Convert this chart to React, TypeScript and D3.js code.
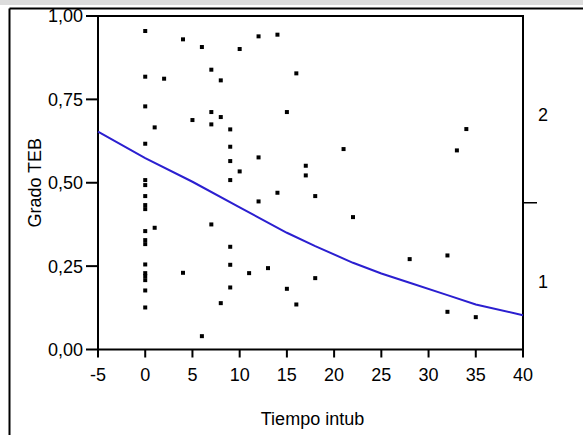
import React from "react";
import * as d3 from "d3";

// Scatter data: Tiempo intub (x) vs Grado TEB (y)
const tiempo: number[] = [
  0, 0, 0, 0, 0, 0, 0, 0, 0, 0, 0, 0, 0, 0, 0, 0, 0, 0,
  1, 1, 2, 4, 4, 5,
  6, 6, 7, 7, 7, 7, 8, 8, 8,
  9, 9, 9, 9, 9, 9, 9,
  10, 10, 11, 12, 12, 12, 13, 14, 14, 15, 15, 16, 16, 17, 17,
  18, 18, 21, 22, 28, 32, 32, 33, 34, 35,
];
const grado: number[] = [
  0.955, 0.818, 0.729, 0.617, 0.508, 0.493, 0.46, 0.433, 0.421, 0.355, 0.328, 0.316, 0.255, 0.229, 0.22, 0.208, 0.177, 0.126,
  0.666, 0.365, 0.812, 0.93, 0.23, 0.688,
  0.907, 0.04, 0.839, 0.712, 0.675, 0.375, 0.807, 0.697, 0.139,
  0.66, 0.608, 0.565, 0.508, 0.308, 0.254, 0.186,
  0.901, 0.534, 0.229, 0.939, 0.576, 0.444, 0.244, 0.944, 0.47, 0.712, 0.182, 0.828, 0.135, 0.551, 0.522,
  0.46, 0.214, 0.601, 0.397, 0.271, 0.282, 0.113, 0.597, 0.661, 0.097,
];

// Fitted curve
const curveX: number[] = [-5, 0, 5, 10, 15, 18, 22, 25, 28, 32, 35, 40];
const curveY: number[] = [0.653, 0.574, 0.503, 0.426, 0.35, 0.31, 0.26, 0.228, 0.2, 0.163, 0.135, 0.103];

const xTicks: number[] = [-5, 0, 5, 10, 15, 20, 25, 30, 35, 40];
const yTicks: number[] = [0, 0.25, 0.5, 0.75, 1];
const rightLabels: string[] = ["2", "1"];
const rightLabelValues: number[] = [0.705, 0.205];
const rightTickValue: number[] = [0.44];

const FONT = "'Liberation Sans', Arial, Helvetica, sans-serif";

export default function App() {
  const W = 583;
  const H = 435;
  const left = 98;
  const right = 523;
  const top = 16;
  const bottom = 349.5;
  const x = d3.scaleLinear().domain([-5, 40]).range([left, right]);
  const y = d3.scaleLinear().domain([0, 1]).range([bottom, top]);
  const fmt = (v: number) => d3.format(".2f")(v).replace(".", ",");
  const line = d3
    .line<number>()
    .x((_, i) => x(curveX[i]))
    .y((d) => y(d));
  const ms = 4;

  return (
    <svg
      width={W}
      height={H}
      style={{ position: "absolute", left: 0, top: 0, background: "#fff" }}
      fontFamily={FONT}
    >
      <rect x={0} y={0} width={W} height={5} fill="#dcdcdc" />
      {/* outer frame */}
      <line x1={9.5} x2={W} y1={8.5} y2={8.5} stroke="#000" strokeWidth={2} />
      <line x1={9.5} x2={9.5} y1={8.5} y2={H} stroke="#000" strokeWidth={2} />

      {/* plot frame */}
      <rect
        x={left}
        y={top}
        width={right - left}
        height={bottom - top}
        fill="none"
        stroke="#000"
        strokeWidth={2}
      />

      {/* y ticks */}
      {yTicks.map((t) => (
        <g key={"y" + t}>
          <line x1={86} x2={left} y1={y(t)} y2={y(t)} stroke="#000" strokeWidth={2} />
          <text x={83} y={y(t)} dy="0.36em" textAnchor="end" fontSize={18} fill="#000">
            {fmt(t)}
          </text>
        </g>
      ))}

      {/* x ticks */}
      {xTicks.map((t) => (
        <g key={"x" + t}>
          <line x1={x(t)} x2={x(t)} y1={bottom} y2={bottom + 8} stroke="#000" strokeWidth={2} />
          <text x={x(t)} y={381} textAnchor="middle" fontSize={18} fill="#000">
            {t}
          </text>
        </g>
      ))}

      {/* right axis labels */}
      {rightTickValue.map((v, i) => (
        <line key={"rt" + i} x1={right} x2={right + 14} y1={y(v)} y2={y(v)} stroke="#000" strokeWidth={1.5} />
      ))}
      {rightLabels.map((l, i) => (
        <text key={"rl" + i} x={543} y={y(rightLabelValues[i])} dy="0.36em" textAnchor="middle" fontSize={18} fill="#000">
          {l}
        </text>
      ))}

      {/* axis titles */}
      <text
        transform={`translate(41,${(top + bottom) / 2}) rotate(-90)`}
        textAnchor="middle"
        fontSize={18}
        fill="#000"
      >
        Grado TEB
      </text>
      <text x={(left + right) / 2 + 2} y={425} textAnchor="middle" fontSize={18} fill="#000">
        Tiempo intub
      </text>

      {/* fitted curve */}
      <path d={line(curveY) || ""} fill="none" stroke="#2b1fd0" strokeWidth={2} />

      {/* points */}
      {tiempo.map((t, i) => (
        <rect
          key={"p" + i}
          x={x(t) - ms / 2}
          y={y(grado[i]) - ms / 2}
          width={ms}
          height={ms}
          fill="#000"
        />
      ))}
    </svg>
  );
}
